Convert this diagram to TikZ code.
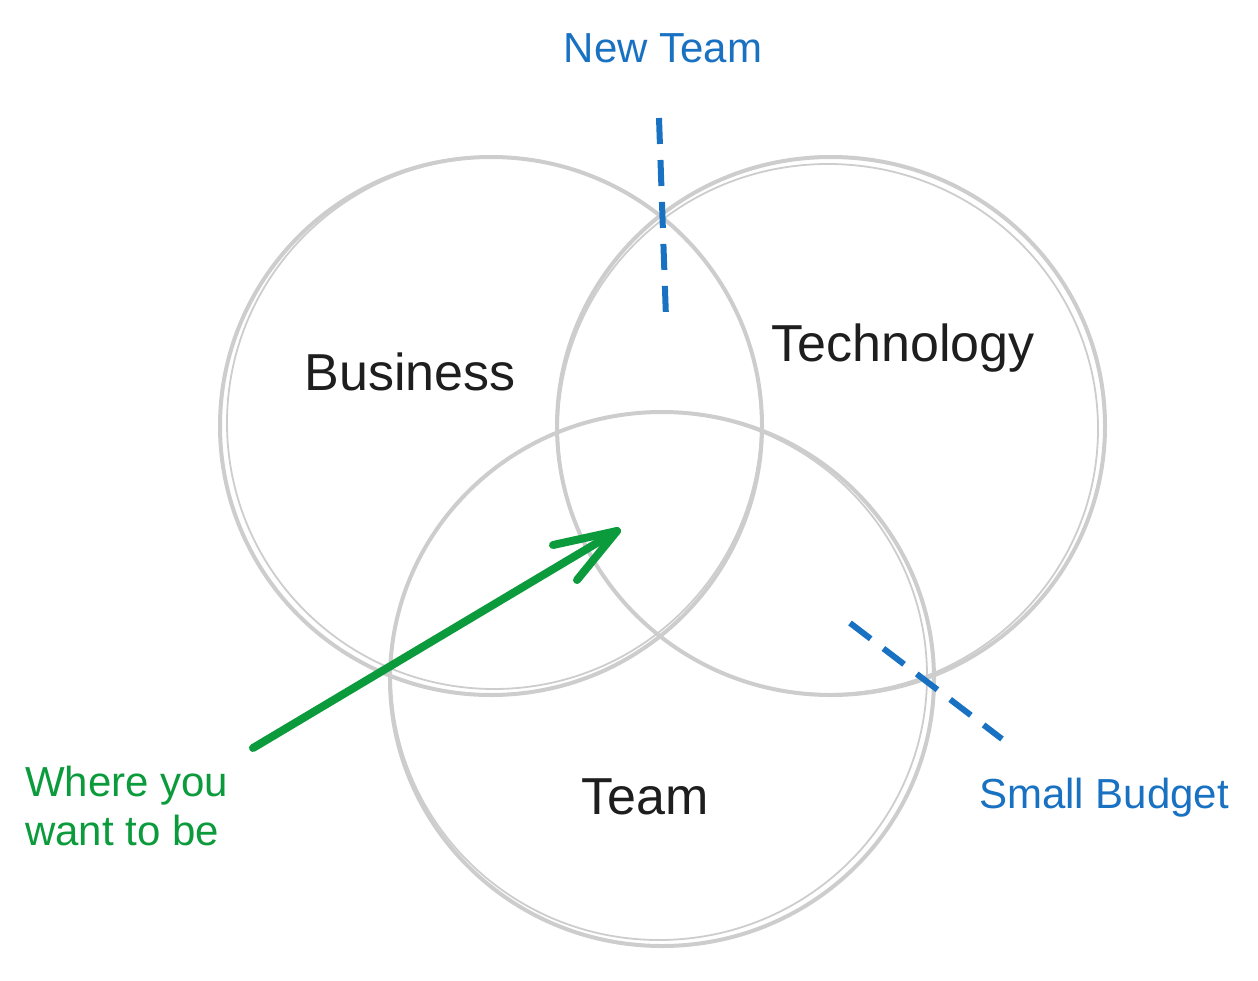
\documentclass[tikz,border=0pt]{standalone}
\usepackage{fontspec}
\setmainfont{Liberation Sans}
\usetikzlibrary{shapes.geometric}
\definecolor{ringgray}{HTML}{CDCDCD}
\definecolor{noteblue}{HTML}{1971C2}
\definecolor{notegreen}{HTML}{0C9B3C}
\definecolor{inkblack}{HTML}{1E1E1E}
\tikzset{
  ring/.style={draw=ringgray, line width=4pt},
  ringb/.style={draw=ringgray, line width=1.8pt},
  bigtext/.style={text=inkblack, font=\fontsize{52}{60}\selectfont, inner sep=0pt},
  bluetext/.style={text=noteblue, font=\fontsize{42}{48}\selectfont, inner sep=0pt},
  greentext/.style={text=notegreen, font=\fontsize{42}{49}\selectfont, inner sep=0pt, align=left},
  dashline/.style={draw=noteblue, line width=6pt, dash pattern=on 26pt off 16pt},
  arrowline/.style={draw=notegreen, line width=8pt, line cap=round, line join=round}
}
\begin{document}
\begin{tikzpicture}[x=1pt,y=-1pt]
\useasboundingbox (0,0) rectangle (1258,980);
% circles
\draw[ring] (491,426) ellipse [x radius=271, y radius=269];
\draw[ringb] (494,423) ellipse [x radius=267, y radius=266];
\draw[ring] (831,426) ellipse [x radius=274, y radius=269];
\draw[ringb] (828,429) ellipse [x radius=270, y radius=265];
\draw[ring] (662,679) ellipse [x radius=272, y radius=267];
\draw[ringb] (659,676) ellipse [x radius=268, y radius=264];
% labels
\node[bigtext] (business) at (410,372) {Business};
\node[bigtext] (technology) at (903,348) {Technology};
\node[bigtext] (team) at (645,797) {Team};
\node[bluetext] (newteam) at (663,48) {New Team};
\node[bluetext] (budget) at (1104,798) {Small Budget};
\node[greentext, anchor=west] (where) at (25,806) {Where you\\want to be};
% dashed markers
\coordinate (nt1) at (659,118);
\coordinate (nt2) at (666,318);
\draw[dashline] (nt1) -- (nt2);
\coordinate (sb1) at (850,623);
\coordinate (sb2) at (1002,739);
\draw[dashline] (sb1) -- (sb2);
% arrow
\coordinate (a0) at (253,748);
\coordinate (tip) at (617,531);
\coordinate (h1) at (553,545);
\coordinate (h2) at (577,580);
\draw[arrowline] (a0) -- (tip);
\draw[arrowline] (h1) -- (tip) -- (h2);
\end{tikzpicture}
\end{document}
